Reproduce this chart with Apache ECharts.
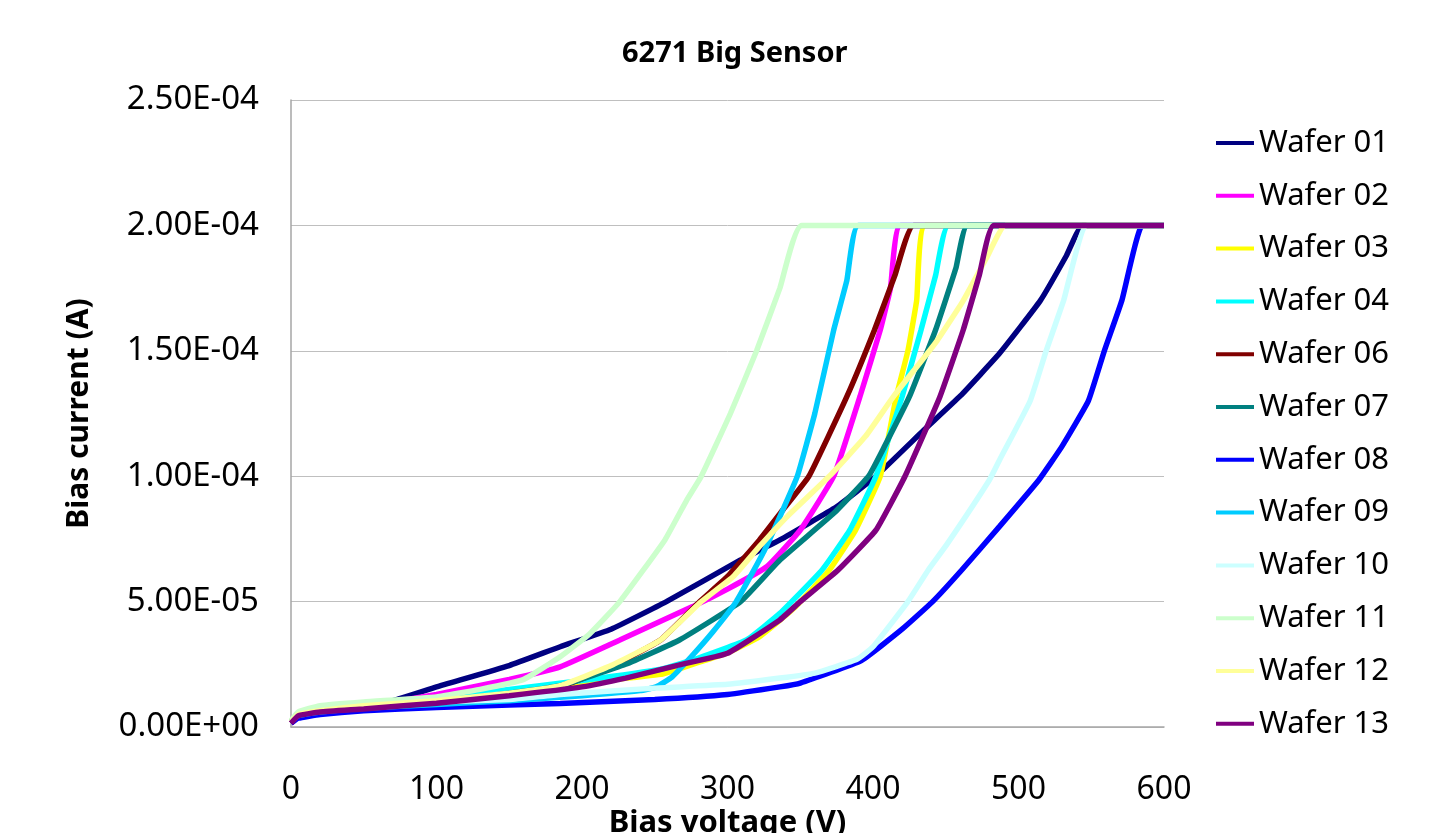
<!DOCTYPE html>
<html>
<head>
<meta charset="utf-8">
<script src="https://cdn.jsdelivr.net/npm/echarts@6/dist/echarts.min.js"></script>
<style>
  html, body { margin: 0; padding: 0; background: #fff; }
  #container { width: 1448px; height: 833px; }
</style>
</head>
<body>
<div id="container"></div>
<script>
// [bias voltage (V), bias current (A)]
var wafer01 = [[0,0.2e-5],[5,0.45e-5],[20,0.65e-5],[50,0.85e-5],[70,1.05e-5],[100,1.6e-5],[150,2.45e-5],[185,3.2e-5],[220,3.9e-5],[258,5.0e-5],[309,6.66e-5],[336,7.46e-5],[375,8.78e-5],[402,10.0e-5],[435,11.84e-5],[460,13.2e-5],[487,14.9e-5],[515,17.0e-5],[533,18.8e-5],[544,20e-5],[600,20e-5]];
var wafer02 = [[0,0.2e-5],[5,0.45e-5],[20,0.6e-5],[50,0.8e-5],[100,1.3e-5],[150,1.9e-5],[185,2.4e-5],[226,3.47e-5],[276,4.8e-5],[300,5.5e-5],[327,6.39e-5],[350,7.85e-5],[373,10.0e-5],[391,13.17e-5],[405,15.83e-5],[412,17.5e-5],[419,20e-5],[600,20e-5]];
var wafer03 = [[0,0.2e-5],[5,0.45e-5],[20,0.55e-5],[50,0.7e-5],[100,0.95e-5],[150,1.35e-5],[200,1.75e-5],[254,2.1e-5],[276,2.5e-5],[300,2.95e-5],[322,3.6e-5],[345,4.7e-5],[370,6.26e-5],[388,7.85e-5],[405,10.0e-5],[416,13.17e-5],[424,15.0e-5],[430,17.0e-5],[436,20e-5],[600,20e-5]];
var wafer04 = [[0,0.2e-5],[5,0.5e-5],[20,0.65e-5],[50,0.85e-5],[100,1.15e-5],[150,1.5e-5],[200,1.85e-5],[254,2.3e-5],[280,2.75e-5],[313,3.47e-5],[336,4.53e-5],[365,6.26e-5],[384,7.85e-5],[402,10.0e-5],[420,13.17e-5],[433,15.83e-5],[443,18.0e-5],[452,20e-5],[600,20e-5]];
var wafer06 = [[0,0.15e-5],[5,0.4e-5],[20,0.55e-5],[50,0.7e-5],[100,1.0e-5],[150,1.3e-5],[185,1.6e-5],[220,2.4e-5],[254,3.47e-5],[281,5.0e-5],[300,6.0e-5],[322,7.46e-5],[338,8.65e-5],[356,10.0e-5],[382,13.17e-5],[401,15.83e-5],[415,18.0e-5],[428,20e-5],[600,20e-5]];
var wafer07 = [[0,0.2e-5],[5,0.45e-5],[20,0.6e-5],[50,0.75e-5],[100,1.0e-5],[150,1.35e-5],[185,1.65e-5],[230,2.5e-5],[267,3.47e-5],[309,5.0e-5],[336,6.66e-5],[373,8.52e-5],[397,10.0e-5],[408,11.2e-5],[425,13.17e-5],[443,15.83e-5],[457,18.3e-5],[465,20e-5],[600,20e-5]];
var wafer08 = [[0,0.15e-5],[5,0.35e-5],[20,0.5e-5],[50,0.65e-5],[100,0.78e-5],[150,0.88e-5],[185,0.94e-5],[250,1.1e-5],[300,1.3e-5],[336,1.6e-5],[350,1.75e-5],[392,2.65e-5],[420,3.9e-5],[441,5.0e-5],[461,6.26e-5],[487,8.0e-5],[514,9.85e-5],[530,11.2e-5],[548,13.0e-5],[559,15.0e-5],[571,17.0e-5],[585,20e-5],[600,20e-5]];
var wafer09 = [[0,0.2e-5],[5,0.45e-5],[20,0.6e-5],[50,0.75e-5],[100,0.9e-5],[150,1.05e-5],[200,1.25e-5],[240,1.45e-5],[251,1.6e-5],[262,2.0e-5],[275,2.8e-5],[290,3.8e-5],[306,5.0e-5],[325,7.0e-5],[337,8.52e-5],[348,10.0e-5],[360,12.5e-5],[373,15.83e-5],[382,17.8e-5],[390,20e-5],[600,20e-5]];
var wafer10 = [[0,0.2e-5],[5,0.5e-5],[20,0.65e-5],[50,0.85e-5],[100,1.0e-5],[150,1.1e-5],[185,1.3e-5],[250,1.55e-5],[300,1.7e-5],[336,1.95e-5],[360,2.15e-5],[389,2.7e-5],[400,3.2e-5],[424,5.0e-5],[438,6.26e-5],[451,7.3e-5],[480,9.85e-5],[487,10.65e-5],[508,13.0e-5],[519,15.0e-5],[531,17.0e-5],[547,20e-5],[600,20e-5]];
var wafer11 = [[0,0.25e-5],[5,0.6e-5],[20,0.85e-5],[50,1.0e-5],[100,1.2e-5],[130,1.5e-5],[160,1.9e-5],[185,2.8e-5],[205,3.7e-5],[226,5.0e-5],[257,7.46e-5],[272,9.05e-5],[282,10.0e-5],[302,12.5e-5],[320,15.0e-5],[336,17.5e-5],[351,20e-5],[600,20e-5]];
var wafer12 = [[0,0.2e-5],[5,0.5e-5],[20,0.65e-5],[50,0.85e-5],[100,1.05e-5],[150,1.35e-5],[185,1.65e-5],[220,2.45e-5],[254,3.47e-5],[281,4.95e-5],[304,6.0e-5],[322,7.2e-5],[341,8.39e-5],[370,10.0e-5],[395,11.6e-5],[414,13.17e-5],[444,15.4e-5],[462,17.0e-5],[478,18.7e-5],[491,20e-5],[600,20e-5]];
var wafer13 = [[0,0.15e-5],[5,0.45e-5],[20,0.6e-5],[50,0.72e-5],[100,0.95e-5],[150,1.25e-5],[200,1.6e-5],[230,1.95e-5],[265,2.45e-5],[300,2.94e-5],[336,4.27e-5],[350,5.0e-5],[376,6.26e-5],[402,7.85e-5],[422,10.0e-5],[446,13.17e-5],[462,15.83e-5],[473,18.0e-5],[483,20e-5],[600,20e-5]];

var names = ['Wafer 01','Wafer 02','Wafer 03','Wafer 04','Wafer 06','Wafer 07','Wafer 08','Wafer 09','Wafer 10','Wafer 11','Wafer 12','Wafer 13'];
var colors = ['#000080','#FF00FF','#FFFF00','#00FFFF','#800000','#008080','#0000FF','#00CCFF','#CCFFFF','#CCFFCC','#FFFF99','#800080'];
var dataSets = [wafer01,wafer02,wafer03,wafer04,wafer06,wafer07,wafer08,wafer09,wafer10,wafer11,wafer12,wafer13];

var chart = echarts.init(document.getElementById('container'));
var font = '"Noto Sans", sans-serif';

function sci(v) {
  var s = Number(v).toExponential(2);
  var parts = s.split('e');
  var n = parseInt(parts[1], 10);
  return parts[0] + 'E' + (n < 0 ? '-' : '+') + String(Math.abs(n)).padStart(2, '0');
}

var series = names.map(function (n, i) {
  return {
    name: n,
    type: 'line',
    data: dataSets[i],
    showSymbol: false,
    smooth: 0.12,
    lineStyle: { color: colors[i], width: 5.5 },
    itemStyle: { color: colors[i] }
  };
});

var option = {
  animation: false,
  backgroundColor: '#fff',
  color: colors,
  title: {
    text: '6271 Big Sensor',
    left: 617,
    top: 34,
    textStyle: { fontFamily: font, fontSize: 29, fontWeight: 'bold', color: '#000' }
  },
  grid: { left: 291, top: 100, width: 873, height: 627, containLabel: false, outerBoundsMode: 'none' },
  legend: {
    orient: 'vertical',
    left: 1211,
    top: 122,
    icon: 'rect',
    itemWidth: 38,
    itemHeight: 4,
    itemGap: 20.8,
    textStyle: { fontFamily: font, fontSize: 31, lineHeight: 32, color: '#000' },
    data: names
  },
  xAxis: {
    type: 'value',
    min: 0,
    max: 600,
    interval: 100,
    name: 'Bias voltage (V)',
    nameLocation: 'middle',
    nameGap: 81,
    nameMoveOverlap: false,
    nameTextStyle: { fontFamily: font, fontSize: 31, fontWeight: 'bold', color: '#000' },
    axisLine: { show: true, lineStyle: { color: '#a6a6a6', width: 1.5 } },
    axisTick: { show: false },
    splitLine: { show: false },
    axisLabel: { margin: 47, fontFamily: font, fontSize: 32, color: '#000' }
  },
  yAxis: {
    type: 'value',
    min: 0,
    max: 2.5e-4,
    interval: 5e-5,
    name: 'Bias current (A)',
    nameLocation: 'middle',
    nameGap: 197,
    nameMoveOverlap: false,
    nameTextStyle: { fontFamily: font, fontSize: 30, fontWeight: 'bold', color: '#000' },
    axisLine: { show: true, lineStyle: { color: '#a6a6a6', width: 1.5 } },
    axisTick: { show: false },
    splitLine: { show: true, lineStyle: { color: '#bfbfbf', width: 1 } },
    axisLabel: { margin: 32, fontFamily: font, fontSize: 33, color: '#000', formatter: sci }
  },
  series: series
};

chart.setOption(option);
</script>
</body>
</html>
